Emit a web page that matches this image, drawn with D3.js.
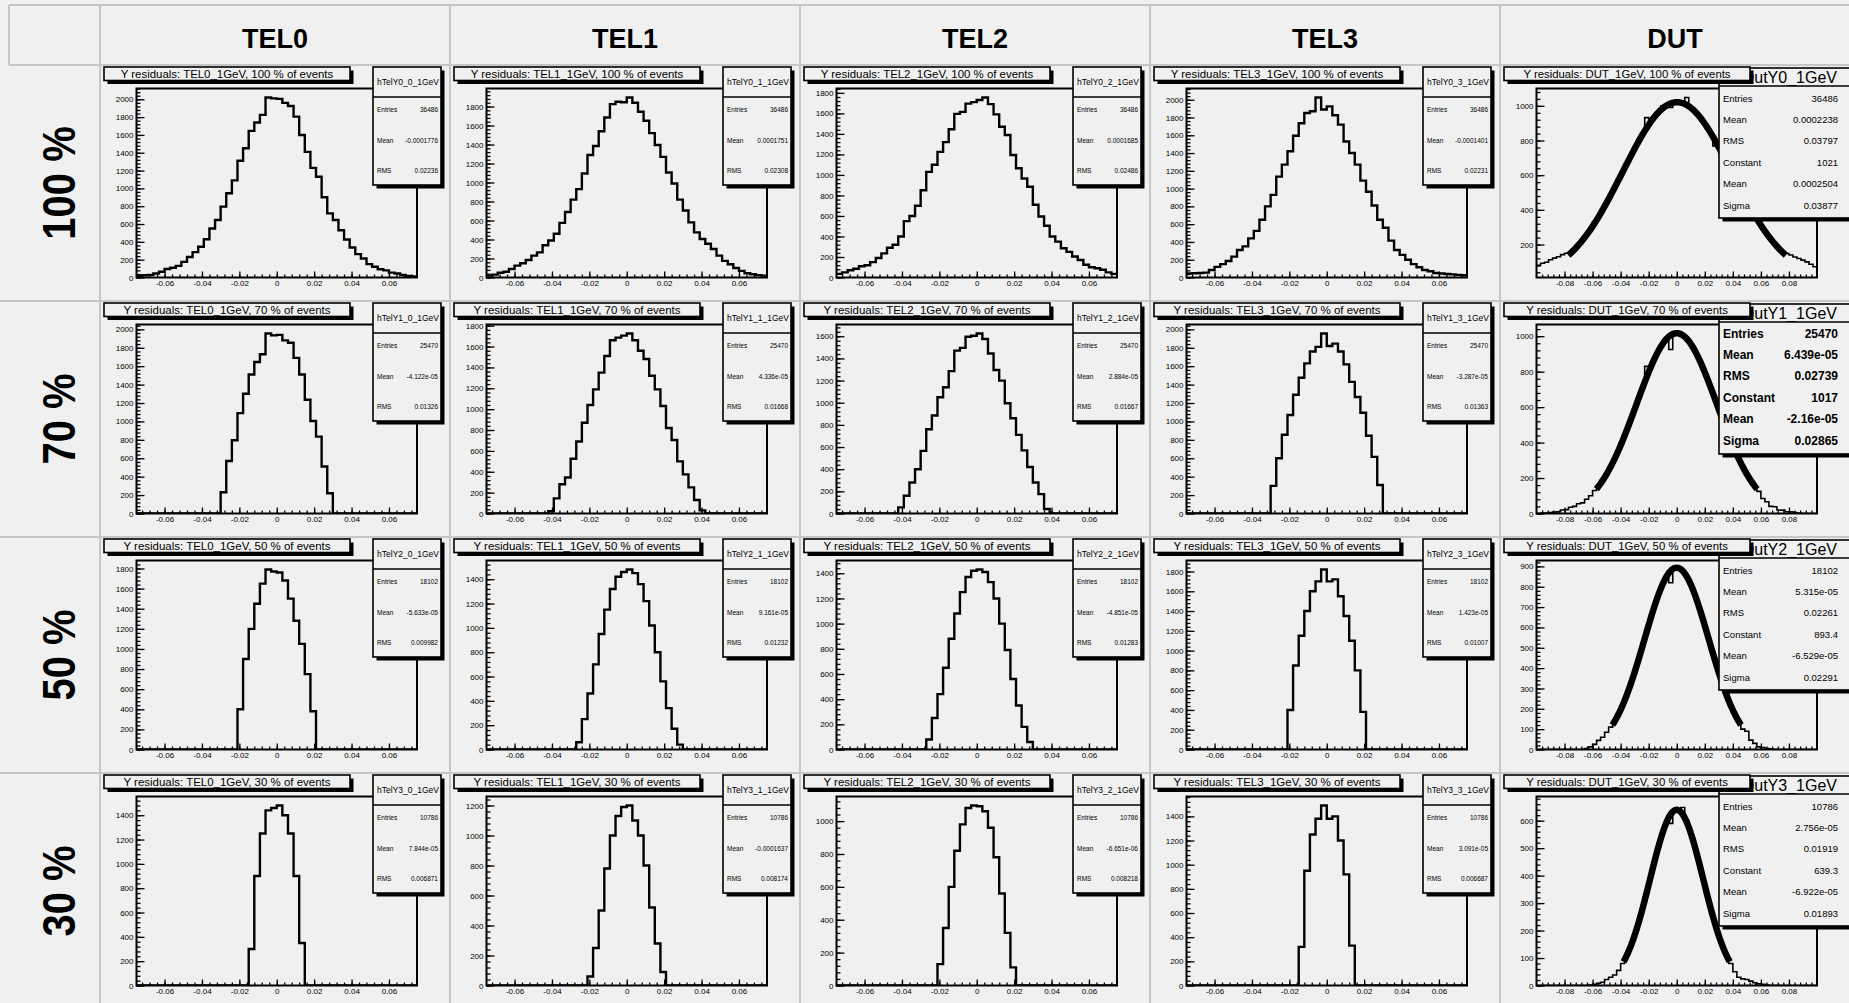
<!DOCTYPE html>
<html>
<head>
<meta charset="utf-8">
<script src="https://cdn.jsdelivr.net/npm/d3@7"></script>
<style>
body { margin: 0; background: #f0f0f0; overflow: hidden; }
svg { display: block; font-family: "Liberation Sans", Arial, sans-serif; }
</style>
</head>
<body>
<svg id="chart" width="1849" height="1003"></svg>
<script>
// ---- data ----
var columns = ["TEL0", "TEL1", "TEL2", "TEL3", "DUT"];
var rowLabels = ["100 %", "70 %", "50 %", "30 %"];
var percents = [100, 70, 50, 30];
var entries = [36486, 25470, 18102, 10786];

// telescope planes: 50 bins from -0.075 to 0.075, first filled bin + contents
var telRange = [-0.075, 0.075];
var telBins = 50;
var telXTicks = [-0.06, -0.04, -0.02, 0, 0.02, 0.04, 0.06];
var telFirstBin = [[0, 0, 0, 0], [15, 11, 11, 15], [18, 16, 16, 18], [20, 18, 18, 20]];

var tel0_100 = [20,25,30,45,65,95,110,130,175,230, 285,345,430,550,645,795,945,1090,1310,1450,
  1645,1740,1825,2020,2010,2005,1960,1925,1805,1600, 1410,1230,1130,900,720,645,530,427,337,262,
  213,150,120,92,80,55,45,28,18,12];
var tel1_100 = [20,30,50,60,90,125,150,185,230,265, 340,390,460,575,690,820,930,1095,1290,1385,
  1540,1685,1825,1850,1845,1895,1840,1745,1650,1520, 1395,1270,1105,990,820,705,580,475,405,355,
  300,230,175,140,100,70,45,35,25,20];
var tel2_100 = [35,50,70,85,110,120,150,190,235,290, 320,400,550,600,700,850,1030,1100,1225,1320,
  1445,1595,1615,1695,1710,1730,1755,1690,1590,1470, 1390,1195,1065,965,885,710,595,505,400,350,
  285,250,205,170,125,100,90,75,50,35];
var tel3_100 = [45,48,50,55,85,120,150,185,235,310, 350,440,525,650,800,930,1135,1270,1420,1595,
  1735,1850,1870,2025,1890,1925,1825,1720,1530,1400, 1270,1090,965,810,650,560,415,310,255,200,
  150,115,85,70,50,45,40,35,30,25];

var tel0_70 = [230,570,795,1090,1300,1510,1645,1730,1955,1935,1940,1880,1855,1690,1510,1235,1005,835,510,220];
var tel1_70 = [22,145,280,345,525,690,870,1040,1190,1350,1510,1660,1685,1705,1725,1660,1560,1480,1320,1190,1030,820,705,500,375,250,130,30];
var tel2_70 = [55,160,280,400,565,760,885,1050,1140,1285,1470,1495,1595,1605,1625,1575,1445,1295,1200,995,860,710,570,420,280,175,40];
var tel3_70 = [300,600,855,1070,1290,1475,1630,1760,1810,1955,1820,1845,1760,1620,1430,1265,1095,845,615,310];

var tel0_50 = [400,900,1200,1450,1650,1790,1770,1760,1680,1500,1280,1050,750,380];
var tel1_50 = [60,250,460,700,950,1150,1320,1420,1460,1480,1450,1360,1220,1020,800,560,340,170,40];
var tel2_50 = [80,250,440,650,880,1080,1250,1370,1420,1430,1410,1330,1200,1000,790,560,350,180,60];
var tel3_50 = [400,850,1150,1400,1600,1700,1820,1700,1720,1550,1350,1100,800,380];

var tel0_30 = [300,900,1250,1440,1460,1480,1400,1250,900,350];
var tel1_30 = [60,250,500,780,1000,1130,1190,1200,1100,1000,800,520,280,90];
var tel2_30 = [130,350,600,820,980,1080,1095,1090,1060,960,780,560,320,110];
var tel3_30 = [320,950,1250,1380,1490,1380,1400,1200,920,330];

var telCounts = [
  [tel0_100, tel1_100, tel2_100, tel3_100],
  [tel0_70, tel1_70, tel2_70, tel3_70],
  [tel0_50, tel1_50, tel2_50, tel3_50],
  [tel0_30, tel1_30, tel2_30, tel3_30]
];
var telMean = [[-0.0001776, 0.0001751, 0.0001685, -0.0001401],
  [-4.122e-05, 4.336e-05, 2.884e-05, -3.287e-05],
  [-5.633e-05, 9.161e-05, -4.851e-05, 1.423e-05],
  [7.844e-05, -0.0001637, -6.651e-06, 3.091e-05]];
var telRms = [[0.02236, 0.02308, 0.02486, 0.02231],
  [0.01326, 0.01668, 0.01667, 0.01363],
  [0.009982, 0.01232, 0.01283, 0.01007],
  [0.006871, 0.008174, 0.008218, 0.006687]];

// DUT: 70 bins from -0.1 to 0.1
var dutRange = [-0.1, 0.1];
var dutXTicks = [-0.08, -0.06, -0.04, -0.02, 0, 0.02, 0.04, 0.06, 0.08];
var dut100 = [80,92,98,112,122,130,142,150,155,172, 200,226,260,290,330,362,405,440,490,530,
  580,620,670,710,760,800,842,932,905,945, 962,1000,1002,990,1022,1018,1012,1048,985,968,
  938,912,875,840,769,758,714,665,624,575, 534,486,446,400,366,324,293,256,230,198,
  176,150,148,140,128,120,110,100,86,72];
var dut70 = [0,2,3,5,8,10,20,22,35,40, 55,60,80,100,130,160,190,225,265,305,
  355,410,470,525,590,650,708,830,822,874, 920,955,985,925,1016,1014,1008,986,955,918,
  876,822,770,708,650,590,526,468,410,357, 307,263,222,185,154,125,85,66,40,38,
  20,19,10,9,5,3,0,0,0,0];
var dut50 = [0,0,0,0,0,0,0,0,0,0, 0,0,5,13,25,45,60,85,110,140,
  174,216,265,318,378,444,509,578,643,707, 763,812,851,820,891,892,879,850,813,763,
  706,644,577,508,444,379,318,265,216,174, 138,100,90,46,30,13,10,5,3,0,
  0,0,0,0,0,0,0,0,0,0];
var dut30 = [0,0,0,0,0,0,0,0,0,0, 0,0,0,2,4,8,12,22,30,38,
  55,80,108,141,182,229,281,337,394,453, 506,556,596,590,636,640,648,600,556,506,
  453,394,337,281,229,182,141,108,80,50, 30,24,22,16,10,6,4,2,0,0,
  0,0,0,0,0,0,0,0,0,0];
var dutCounts = [dut100, dut70, dut50, dut30];
var dutMean = [0.0002238, 6.439e-05, 5.315e-05, 2.756e-05];
var dutRms = [0.03797, 0.02739, 0.02261, 0.01919];
var fitConstant = [1021, 1017, 893.4, 639.3];
var fitMean = [0.0002504, -2.16e-05, -6.529e-05, -6.922e-05];
var fitSigma = [0.03877, 0.02865, 0.02291, 0.01893];
var dutYRange = [[10, 1100], [0, 1066], [0, 929], [0, 688]];
var dutYStep = [200, 200, 100, 100];
var telYStep = 200;

// ---- layout ----
var W = 1849, H = 1003;
var colX = [100, 450, 800, 1150, 1500], colW = 350;
var rowY = [65, 301, 537, 773], rowH = 236;
var bg = "#f0f0f0", grid = "#c6c6c6";
var fr = {l: 36.5, r: 317, t: 23.5, b: 212.5};

var svg = d3.select("#chart");
svg.append("rect").attr("width", W).attr("height", H).attr("fill", bg);

// table lines
var lines = svg.append("g").attr("stroke", grid).attr("stroke-width", 2);
lines.append("line").attr("x1", 9).attr("x2", W).attr("y1", 5).attr("y2", 5);
lines.append("line").attr("x1", 9).attr("x2", 9).attr("y1", 5).attr("y2", rowY[0]);
lines.selectAll(".hl").data(rowY).enter().append("line")
  .attr("x1", (d, i) => i == 0 ? 9 : 0).attr("x2", W)
  .attr("y1", d => d).attr("y2", d => d);
lines.selectAll(".vl").data(colX).enter().append("line")
  .attr("x1", d => d).attr("x2", d => d).attr("y1", 5).attr("y2", H);

// column + row headers
svg.selectAll(".colhead").data(columns).enter().append("text")
  .attr("x", (d, i) => colX[i] + colW / 2).attr("y", 48)
  .attr("text-anchor", "middle")
  .style("font-size", "27px").style("font-weight", "bold")
  .text(d => d);
svg.selectAll(".rowhead").data(rowLabels).enter().append("text")
  .attr("transform", (d, i) => "translate(58," + (rowY[i] + rowH / 2) + ") rotate(-90) scale(1,1.15)")
  .attr("text-anchor", "middle").attr("dy", "0.36em")
  .style("font-size", "40px").style("font-weight", "bold")
  .text(d => d);

// ROOT like %.4g
function g4(v) {
  if (v === 0) return "0";
  var e = Math.floor(Math.log10(Math.abs(v)));
  var s;
  if (e < -4 || e >= 5) {
    s = v.toExponential(3).replace(/\.?0+e/, "e").replace(/e([+-])(\d)$/, "e$10$2");
  } else {
    s = v.toPrecision(4);
    if (s.indexOf(".") >= 0) s = s.replace(/\.?0+$/, "");
  }
  return s;
}
function fmtX(d) { return Math.abs(d) < 1e-9 ? "0" : d.toFixed(2); }

function expand(first, vals, n) {
  var a = new Array(n).fill(0);
  vals.forEach((v, i) => { a[first + i] = v; });
  return a;
}

function shadowBox(g, x, y, w, h) {
  g.append("rect").attr("x", x + 3.5).attr("y", y + 3.5).attr("width", w).attr("height", h).attr("fill", "#000");
  g.append("rect").attr("x", x).attr("y", y).attr("width", w).attr("height", h)
    .attr("fill", bg).attr("stroke", "#000").attr("stroke-width", 1.6);
}

function drawPad(g, s) {
  var x = d3.scaleLinear().domain(s.range).range([fr.l, fr.r]);
  var y = d3.scaleLinear().domain(s.yr).range([fr.b, fr.t]);
  var n = s.counts.length;
  var bw = (s.range[1] - s.range[0]) / n;

  g.append("clipPath").attr("id", s.id).append("rect")
    .attr("x", fr.l).attr("y", fr.t).attr("width", fr.r - fr.l).attr("height", fr.b - fr.t);

  // y axis (ticks inward)
  var st = s.yStep;
  var yMaj = d3.range(Math.ceil(s.yr[0] / st), Math.floor(s.yr[1] / st) + 1).map(k => k * st);
  var yMin = d3.range(Math.ceil(s.yr[0] / (st / 5)), Math.floor(s.yr[1] / (st / 5)) + 1).map(k => k * st / 5);
  var ya = g.append("g").attr("transform", "translate(" + fr.l + ",0)")
    .call(d3.axisLeft(y).tickValues(yMaj).tickSize(-8).tickPadding(3).tickFormat(d3.format("d")));
  var ym = g.append("g").attr("transform", "translate(" + fr.l + ",0)")
    .call(d3.axisLeft(y).tickValues(yMin).tickSize(-4).tickFormat(""));

  // x axis
  var xMin = d3.range(Math.ceil(s.range[0] / 0.004 + 1e-6), Math.floor(s.range[1] / 0.004 - 1e-6) + 1).map(k => k * 0.004);
  var xa = g.append("g").attr("transform", "translate(0," + fr.b + ")")
    .call(d3.axisBottom(x).tickValues(s.xTicks).tickSize(-6).tickPadding(3).tickFormat(fmtX));
  var xm = g.append("g").attr("transform", "translate(0," + fr.b + ")")
    .call(d3.axisBottom(x).tickValues(xMin).tickSize(-3).tickFormat(""));

  [ya, ym, xa, xm].forEach(function(a) {
    a.select(".domain").remove();
    a.selectAll("line").attr("stroke-width", 1.3);
    a.selectAll("text").style("font-size", "8px").style("font-family", "Liberation Sans, Arial, sans-serif");
  });

  // histogram
  var pts = s.counts.map((c, i) => [s.range[0] + i * bw, c]);
  pts.push([s.range[1], s.counts[n - 1]]);
  var hline = d3.line().x(d => x(d[0])).y(d => y(Math.max(d[1], s.yr[0]))).curve(d3.curveStepAfter);
  g.append("path").attr("d", hline(pts))
    .attr("fill", "none").attr("stroke", "#000").attr("stroke-width", s.histW)
    .attr("clip-path", "url(#" + s.id + ")");

  // gaussian fit over mean +- 2 sigma
  if (s.fit) {
    var f = s.fit;
    var xs = d3.range(0, 121).map(i => f.mean - 2 * f.sigma + i * 4 * f.sigma / 120);
    var fline = d3.line().x(d => x(d)).y(d => y(f.c * Math.exp(-0.5 * Math.pow((d - f.mean) / f.sigma, 2))));
    g.append("path").attr("d", fline(xs))
      .attr("fill", "none").attr("stroke", "#000").attr("stroke-width", 6.5)
      .attr("clip-path", "url(#" + s.id + ")");
  }

  // frame
  g.append("rect").attr("x", fr.l).attr("y", fr.t)
    .attr("width", fr.r - fr.l).attr("height", fr.b - fr.t)
    .attr("fill", "none").attr("stroke", "#000").attr("stroke-width", 2);

  // stats box
  var sb = s.stats;
  shadowBox(g, sb.x, sb.y, sb.w, sb.h);
  g.append("line").attr("x1", sb.x).attr("x2", sb.x + sb.w)
    .attr("y1", sb.y + sb.hdr).attr("y2", sb.y + sb.hdr)
    .attr("stroke", "#000").attr("stroke-width", 1.6);
  g.append("clipPath").attr("id", s.id + "s").append("rect")
    .attr("x", sb.x + 1).attr("y", sb.y).attr("width", sb.w - 2).attr("height", sb.hdr);
  g.append("text").attr("x", sb.nameX).attr("y", sb.y + sb.nameY)
    .attr("text-anchor", "end").attr("clip-path", "url(#" + s.id + "s)")
    .style("font-size", sb.nameSize + "px").text(sb.name);
  var rows = g.selectAll(".srow").data(sb.rows).enter().append("g")
    .style("font-size", sb.size + "px").style("font-weight", sb.bold ? "bold" : "normal");
  rows.append("text").attr("x", sb.x + 4).attr("y", (d, i) => sb.y0 + i * sb.dy).text(d => d[0]);
  rows.append("text").attr("x", sb.vx).attr("y", (d, i) => sb.y0 + i * sb.dy)
    .attr("text-anchor", "end").text(d => d[1]);

  // title box
  shadowBox(g, 4, 2, 246, 13.5);
  g.append("text").attr("x", 127).attr("y", 12.5).attr("text-anchor", "middle")
    .attr("textLength", s.title.length * 5.45).attr("lengthAdjust", "spacingAndGlyphs")
    .style("font-size", "10px").text(s.title);
}

rowLabels.forEach(function(rl, r) {
  columns.forEach(function(col, c) {
    var g = svg.append("g").attr("transform", "translate(" + colX[c] + "," + rowY[r] + ")");
    var title = "Y residuals: " + col + "_1GeV, " + percents[r] + " % of events";
    if (c < 4) {
      var counts = expand(telFirstBin[r][c], telCounts[r][c], telBins);
      drawPad(g, {
        id: "clip" + r + c, range: telRange, counts: counts,
        yr: [0, 1.05 * d3.max(counts)], yStep: telYStep, xTicks: telXTicks,
        histW: 2.4, title: title,
        stats: {
          x: 273, y: 2, w: 68, h: 118, hdr: 30, nameX: 339, nameY: 18, nameSize: 8.5,
          name: "hTelY" + r + "_" + c + "_1GeV",
          rows: [["Entries", entries[r]], ["Mean", g4(telMean[r][c])], ["RMS", g4(telRms[r][c])]],
          y0: 47, dy: 30.5, vx: 338, size: 6.5, bold: false
        }
      });
    } else {
      drawPad(g, {
        id: "clip" + r + c, range: dutRange, counts: dutCounts[r],
        yr: dutYRange[r], yStep: dutYStep[r], xTicks: dutXTicks,
        histW: 1.6, title: title,
        fit: {c: fitConstant[r], mean: fitMean[r], sigma: fitSigma[r]},
        stats: {
          x: 219, y: 3, w: 140, h: 150, hdr: 18, nameX: 337, nameY: 15, nameSize: 16,
          name: "hDutY" + r + "_1GeV",
          rows: [["Entries", entries[r]], ["Mean", g4(dutMean[r])], ["RMS", g4(dutRms[r])],
                 ["Constant", g4(fitConstant[r])], ["Mean", g4(fitMean[r])], ["Sigma", g4(fitSigma[r])]],
          y0: 36.5, dy: 21.4, vx: 338, size: r == 1 ? 12 : 9.5, bold: r == 1
        }
      });
    }
  });
});
</script>
</body>
</html>
